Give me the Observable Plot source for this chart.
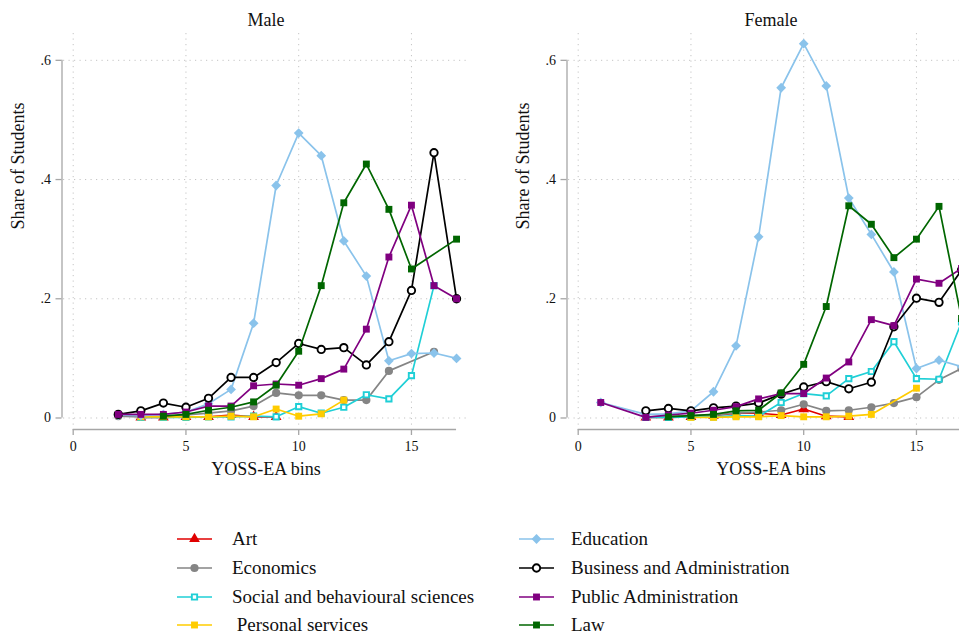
<!DOCTYPE html>
<html>
<head>
<meta charset="utf-8">
<script src="https://cdn.jsdelivr.net/npm/d3@7"></script>
<script src="https://cdn.jsdelivr.net/npm/@observablehq/plot@0.6"></script>
<style>
  body { margin: 0; background: #fff; }
  #chart {
    position: relative; width: 959px; height: 637px; overflow: hidden; background: #fff;
    font-family: "Liberation Serif", "Times New Roman", serif; color: #111;
  }
  .panel { position: absolute; top: 0; }
  .item { position: absolute; height: 20px; display: flex; align-items: center; font-size: 19px; white-space: pre; }
  .item svg { position: absolute; top: 0; }
</style>
</head>
<body>
<div id="chart"></div>
<script>
// YOSS-EA bins 1..17; null = no students in that bin
const bins = [1, 2, 3, 4, 5, 6, 7, 8, 9, 10, 11, 12, 13, 14, 15, 16, 17];
const xTicks = [0, 5, 10, 15];
const yTicks = [0, 0.2, 0.4, 0.6];
const yTickLabels = ["0", ".2", ".4", ".6"];
const panelTitles = ["Male", "Female"];
const fields = ["Art", "Economics", "Social and behavioural sciences", " Personal services",
  "Education", "Business and Administration", "Public Administration", "Law"];

// Male
const maleArt        = [null, null, .001, .001, .002, .002, .005, .002, .002, null, null, null, null, null, null, null, null];
const maleEconomics  = [null, .003, .002, .003, .005, .008, .012, .020, .042, .038, .038, .030, .030, .079, null, .111, null];
const maleSocial     = [null, null, .001, .001, .001, .002, .002, .003, .002, .019, .008, .018, .039, .032, .071, .222, null];
const malePersonal   = [null, null, .002, .002, .002, .002, .003, .002, .015, .003, .007, .030, null, null, null, null, null];
const maleEducation  = [null, .005, .004, .006, .010, .024, .048, .159, .390, .478, .440, .297, .238, .096, .108, .109, .100];
const maleBusiness   = [null, .006, .012, .025, .018, .033, .068, .068, .093, .125, .115, .118, .089, .128, .214, .445, .200];
const maleAdmin      = [null, .006, .006, .006, .010, .020, .020, .054, .057, .055, .066, .082, .149, .270, .357, .222, .200];
const maleLaw        = [null, null, null, .003, .006, .013, .018, .027, .055, .112, .222, .361, .426, .350, .250, null, .300];

// Female
const femaleArt       = [null, null, .001, .001, .002, .004, .008, .008, .005, .015, .003, .002, null, null, null, null, null];
const femaleEconomics = [null, null, .002, .003, .004, .005, .008, .010, .013, .023, .012, .013, .018, .025, .035, .064, .083];
const femaleSocial    = [null, null, .001, .001, .002, .002, .004, .003, .026, .041, .037, .066, .078, .128, .066, .065, .161];
const femalePersonal  = [null, null, null, null, .001, .001, .002, .002, .004, .002, .002, .003, .006, null, .050, null, null];
const femaleEducation = [.026, null, .006, .007, .012, .044, .121, .304, .554, .628, .557, .369, .308, .245, .083, .097, .086];
const femaleBusiness  = [null, null, .012, .016, .012, .017, .020, .025, .040, .052, .061, .049, .060, .153, .201, .194, .248];
const femaleAdmin     = [.026, null, .001, .005, .008, .013, .019, .032, .041, .041, .067, .094, .165, .155, .233, .226, .251];
const femaleLaw       = [null, null, null, .002, .004, .006, .012, .013, .042, .090, .187, .356, .325, .269, .300, .355, .167];

const maleSeries = [maleArt, maleEconomics, maleSocial, malePersonal, maleEducation, maleBusiness, maleAdmin, maleLaw];
const femaleSeries = [femaleArt, femaleEconomics, femaleSocial, femalePersonal, femaleEducation, femaleBusiness, femaleAdmin, femaleLaw];

// Line and marker styles, one per field of study
const styles = [
  {color: "#e00000", symbol: "triangle", r: 4.0, hollow: false},
  {color: "#858585", symbol: "circle",   r: 4.1, hollow: false},
  {color: "#1fcfd6", symbol: "square",   r: 3.0, hollow: true},
  {color: "#ffcc00", symbol: "square",   r: 3.9, hollow: false},
  {color: "#8ac3eb", symbol: "square",   r: 3.9, hollow: false, rotate: 45},
  {color: "#000000", symbol: "circle",   r: 3.7, hollow: true},
  {color: "#800080", symbol: "square",   r: 3.9, hollow: false},
  {color: "#006600", symbol: "square",   r: 3.9, hollow: false}
];

const axisColor = "#a6a6a6";
const gridColor = "#c4c4c4";
const xDomain = [-0.43, 17.53];
const yDomain = [-0.0126, 0.645];

function panel(title, seriesList) {
  const marks = [
    Plot.gridX(xTicks, {stroke: gridColor, strokeOpacity: 1, strokeDasharray: "1.2,4.3"}),
    Plot.gridY(yTicks, {stroke: gridColor, strokeOpacity: 1, strokeDasharray: "1.2,4.3"}),
    Plot.ruleX([xDomain[0]], {y1: 0, y2: 0.6, dx: -1.5, stroke: axisColor, strokeWidth: 1.3}),
    Plot.ruleY([yDomain[0]], {x1: 0, x2: 17, dy: 4, stroke: axisColor, strokeWidth: 1.3}),
    Plot.axisY(yTicks, {
      anchor: "left", dx: -1.5, tickSize: 6, tickPadding: 5, stroke: axisColor, fill: "#111",
      strokeWidth: 1.3, fontSize: 14, label: null,
      tickFormat: d => yTickLabels[yTicks.indexOf(d)]
    }),
    Plot.axisX(xTicks, {
      anchor: "bottom", dy: 4, tickSize: 6, tickPadding: 6, stroke: axisColor, fill: "#111",
      strokeWidth: 1.3, fontSize: 14, label: null, tickFormat: d => String(d)
    }),
    Plot.text([title], {frameAnchor: "top", dy: -13, fontSize: 18, fill: "#111", lineAnchor: "middle"}),
    Plot.text(["Share of Students"], {frameAnchor: "left", dx: -45, rotate: -90, fontSize: 18, fill: "#111"}),
    Plot.text(["YOSS-EA bins"], {frameAnchor: "bottom", dy: 49, fontSize: 18, fill: "#111"})
  ];
  seriesList.forEach((values, k) => {
    const s = styles[k];
    const data = bins.map((b, i) => ({bin: b, share: values[i]})).filter(d => d.share != null);
    marks.push(Plot.line(data, {x: "bin", y: "share", stroke: s.color, strokeWidth: 1.7}));
    marks.push(Plot.dot(data, {
      x: "bin", y: "share", symbol: s.symbol, r: s.r, rotate: s.rotate || 0,
      fill: s.hollow ? "#fff" : s.color,
      stroke: s.hollow ? s.color : "none",
      strokeWidth: s.hollow ? 1.9 : 0
    }));
  });
  return Plot.plot({
    width: 480, height: 490,
    marginLeft: 63, marginRight: 12, marginTop: 33, marginBottom: 65,
    x: {domain: xDomain},
    y: {domain: yDomain},
    axis: null,
    style: {fontFamily: "'Liberation Serif', 'Times New Roman', serif", background: "transparent", overflow: "visible"},
    marks
  });
}

const chart = document.getElementById("chart");
[[panelTitles[0], maleSeries, 0], [panelTitles[1], femaleSeries, 505]].forEach(([t, s, left]) => {
  const p = panel(t, s);
  p.classList.add("panel");
  p.style.left = left + "px";
  chart.appendChild(p);
});

// Legend: two columns of four entries
const legendRows = [538.5, 567.5, 596.5, 625];
const legendCols = [{line: 177, text: 232}, {line: 519, text: 571}];
fields.forEach((name, k) => {
  const s = styles[k];
  const col = legendCols[Math.floor(k / 4)];
  const row = legendRows[k % 4];
  const item = document.createElement("div");
  item.className = "item";
  item.style.left = col.line + "px";
  item.style.top = (row - 10) + "px";
  const svg = d3.create("svg").attr("width", 36).attr("height", 20);
  svg.append("line").attr("x1", 0).attr("x2", 35).attr("y1", 10).attr("y2", 10)
    .attr("stroke", s.color).attr("stroke-width", 1.7);
  const sym = {circle: d3.symbolCircle, square: d3.symbolSquare, triangle: d3.symbolTriangle}[s.symbol];
  svg.append("path")
    .attr("d", d3.symbol(sym, Math.PI * s.r * s.r)())
    .attr("transform", `translate(17.5,10) rotate(${s.rotate || 0})`)
    .attr("fill", s.hollow ? "#fff" : s.color)
    .attr("stroke", s.hollow ? s.color : "none")
    .attr("stroke-width", s.hollow ? 1.9 : 0);
  item.appendChild(svg.node());
  const label = document.createElement("span");
  label.textContent = name;
  label.style.marginLeft = (col.text - col.line) + "px";
  item.appendChild(label);
  chart.appendChild(item);
});
</script>
</body>
</html>
